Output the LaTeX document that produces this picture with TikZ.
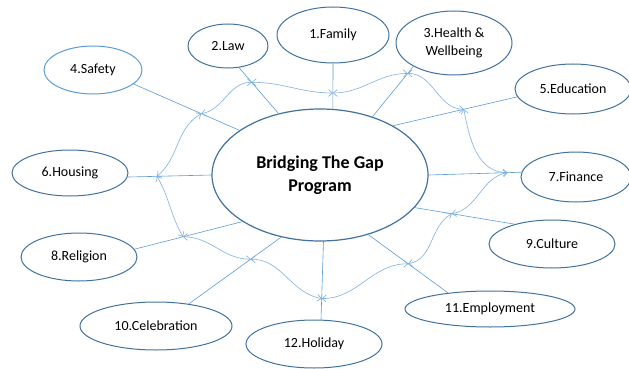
\documentclass[tikz,border=0pt]{standalone}
\usepackage{fontspec}
\setmainfont{Carlito}
\usetikzlibrary{shapes.geometric,arrows.meta}
\definecolor{rim}{HTML}{41719C}
\definecolor{link}{HTML}{5B9BD5}
\definecolor{wave}{HTML}{7FAFE0}
\tikzset{
  topic/.style={ellipse, draw=rim, line width=1pt, inner sep=0pt, align=center,
    font=\fontsize{14}{18}\selectfont},
  spoke/.style={draw=link, line width=0.6pt},
  wavy/.style={draw=wave, line width=0.6pt,
    {Straight Barb[length=4pt,width=7pt]}-{Straight Barb[length=4pt,width=7pt]}}
}
\begin{document}
\begin{tikzpicture}[x=1pt,y=1pt]
  \useasboundingbox (0,0) rectangle (629,-369);
  % hub and topics
  \node[topic, minimum width=216, minimum height=132, line width=1.2pt,
    font=\bfseries\fontsize{18}{23}\selectfont] (hub) at (320,-175) {Bridging The Gap\\Program};
  \node[topic, minimum width=112, minimum height=56] (family) at (333,-35) {1.Family};
  \node[topic, minimum width=80, minimum height=44] (law) at (228,-46) {2.Law};
  \node[topic, minimum width=116, minimum height=64] (health) at (454,-43) {3.Health \&\\Wellbeing};
  \node[topic, minimum width=98, minimum height=48, draw=link] (safety) at (93,-70) {4.Safety};
  \node[topic, minimum width=116, minimum height=50] (education) at (573,-89) {5.Education};
  \node[topic, minimum width=116, minimum height=46] (housing) at (70,-173) {6.Housing};
  \node[topic, minimum width=110, minimum height=50] (finance) at (576,-177) {7.Finance};
  \node[topic, minimum width=116, minimum height=48] (religion) at (79,-257) {8.Religion};
  \node[topic, minimum width=126, minimum height=48] (culture) at (552,-244) {9.Culture};
  \node[topic, minimum width=152, minimum height=48] (celebration) at (156,-326) {10.Celebration};
  \node[topic, minimum width=170, minimum height=36] (employment) at (490,-309) {11.Employment};
  \node[topic, minimum width=136, minimum height=48] (holiday) at (314,-344) {12.Holiday};
  % spokes, with a point on each for the ring
  \foreach \n/\a/\b/\f in {law/124/-63/0.68, family/79/-90/0.35, health/48/210/0.86,
      safety/151/-19/0.36, education/34/188/0.57, housing/180/-4/0.65,
      finance/0/175/0.85, religion/211/8/0.55, culture/-19/152/0.37,
      celebration/238/34/0.33, employment/-51/159/0.5, holiday/-87/74/0.73}
    \draw[spoke] (hub.\a) -- (\n.\b) coordinate[pos=\f] (w-\n);
  % ring
  \draw[wavy] (w-law) to[out=0,in=180] (w-family);
  \draw[wavy] (w-family) to[out=0,in=180] (w-health);
  \draw[wavy] (w-health) to[out=0,in=180] (w-education);
  \draw[wavy] (w-education) to[out=-80,in=180] (w-finance);
  \draw[wavy] (w-finance) to[out=190,in=10] (w-culture);
  \draw[wavy] (w-culture) to[out=210,in=10] (w-employment);
  \draw[wavy] (w-employment) to[out=180,in=0] (w-holiday);
  \draw[wavy] (w-holiday) to[out=170,in=0] (w-celebration);
  \draw[wavy] (w-celebration) to[out=180,in=0] (w-religion);
  \draw[wavy] (w-religion) to[out=120,in=-60] (w-housing);
  \draw[wavy] (w-housing) to[out=40,in=210] (w-safety);
  \draw[wavy] (w-safety) to[out=10,in=180] (w-law);
\end{tikzpicture}
\end{document}
